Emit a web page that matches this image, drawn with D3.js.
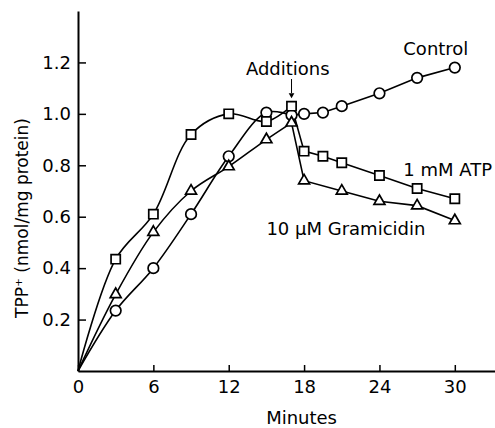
<!DOCTYPE html>
<html>
<head>
<meta charset="utf-8">
<script src="https://cdn.jsdelivr.net/npm/d3@7"></script>
<style>
  body { margin: 0; background: #fff; }
  svg text { font-family: "DejaVu Sans", sans-serif; fill: #000; }
</style>
</head>
<body>
<svg id="chart" width="495" height="428"></svg>
<script>
// minutes sampled for each series
const controlMin = [0, 3, 6, 9, 12, 15, 17, 18, 19.5, 21, 24, 27, 30];
const controlVal = [0, 0.235, 0.40, 0.61, 0.835, 1.005, 0.995, 1.0, 1.005, 1.03, 1.08, 1.14, 1.18];

const atpMin = [0, 3, 6, 9, 12, 15, 17, 18, 19.5, 21, 24, 27, 30];
const atpVal = [0, 0.435, 0.61, 0.92, 1.0, 0.97, 1.03, 0.855, 0.835, 0.81, 0.76, 0.71, 0.67];

const gramMin = [0, 3, 6, 9, 12, 15, 17, 18, 21, 24, 27, 30];
const gramVal = [0, 0.298, 0.54, 0.70, 0.795, 0.90, 0.965, 0.74, 0.70, 0.66, 0.643, 0.585];

const xTicks = [0, 6, 12, 18, 24, 30];
const yTicks = [0.2, 0.4, 0.6, 0.8, 1.0, 1.2];

const additionsAt = 17;

const svg = d3.select('#chart');

const x = d3.scaleLinear().domain([0, 33.2]).range([78, 495]),
      y = d3.scaleLinear().domain([0, 1.4]).range([371, 11]);

//Axes, ticks pointing inward.
  svg.append('g')
      .attr('transform', `translate(0,${y(0)})`)
      .call(d3.axisBottom(x)
          .tickValues(xTicks)
          .tickFormat(d3.format('d'))
          .tickSizeInner(-6)
          .tickSizeOuter(0)
          .tickPadding(9))
      .call(g => g.select('.domain').attr('stroke-width', 2))
      .call(g => g.selectAll('.tick line').attr('stroke-width', 1.5))
      .call(g => g.selectAll('text').attr('font-size', 18).style('font-family', '"DejaVu Sans", sans-serif'));

  svg.append('g')
      .attr('transform', `translate(${x(0)},0)`)
      .call(d3.axisLeft(y)
          .tickValues(yTicks)
          .tickFormat(d3.format('.1f'))
          .tickSizeInner(-8)
          .tickSizeOuter(0)
          .tickPadding(7))
      .call(g => g.select('.domain').attr('stroke-width', 2))
      .call(g => g.selectAll('.tick line').attr('stroke-width', 1.5))
      .call(g => g.selectAll('text').attr('font-size', 18).style('font-family', '"DejaVu Sans", sans-serif'));

//Axis titles.
  svg.append('text')
      .attr('x', x(17.8))
      .attr('y', 424)
      .attr('text-anchor', 'middle')
      .attr('font-size', 18)
      .text('Minutes');

  svg.append('text')
      .attr('transform', 'translate(28,218) rotate(-90)')
      .attr('text-anchor', 'middle')
      .attr('font-size', 17)
      .text('TPP⁺ (nmol/mg protein)');

//Series lines: smooth rise before the additions, straight segments after.
  const smooth = d3.line()
      .x(d => x(d[0]))
      .y(d => y(d[1]))
      .curve(d3.curveCatmullRom.alpha(0.5));
  const straight = d3.line()
      .x(d => x(d[0]))
      .y(d => y(d[1]));

  const series = [
      {min: controlMin, val: controlVal, shape: 'circle'},
      {min: atpMin, val: atpVal, shape: 'square'},
      {min: gramMin, val: gramVal, shape: 'triangle'}
  ];

  series.forEach(s => {
      const pts = s.min.map((m, i) => [m, s.val[i]]);
      [smooth(pts.filter(d => d[0] <= additionsAt)),
       straight(pts.filter(d => d[0] >= additionsAt))]
          .forEach(d => svg.append('path')
              .attr('d', d)
              .attr('fill', 'none')
              .attr('stroke', '#000')
              .attr('stroke-width', 1.6));
  });

  const symbols = {circle: d3.symbolCircle, square: d3.symbolSquare, triangle: d3.symbolTriangle},
        sizes = {circle: 88, square: 85, triangle: 52};

  series.forEach(s => {
      svg.append('g')
          .selectAll('path')
          .data(s.min.map((m, i) => [m, s.val[i]]).filter(d => d[0] > 0))
          .join('path')
          .attr('transform', d => `translate(${x(d[0])},${y(d[1])})`)
          .attr('d', d3.symbol(symbols[s.shape], sizes[s.shape]))
          .attr('fill', '#fff')
          .attr('stroke', '#000')
          .attr('stroke-width', 1.7);
  });

//Labels.
  const labels = [
      {t: 'Control', x: 25.9, y: 1.23},
      {t: '1 mM ATP', x: 25.9, y: 0.76},
      {t: '10 μM Gramicidin', x: 15.0, y: 0.53}
  ];
  svg.selectAll('.series-label')
      .data(labels)
      .join('text')
      .classed('series-label', true)
      .attr('x', d => x(d.x))
      .attr('y', d => y(d.y))
      .attr('font-size', 18)
      .text(d => d.t);

//Additions arrow.
  svg.append('text')
      .attr('x', x(16.7))
      .attr('y', 75)
      .attr('text-anchor', 'middle')
      .attr('font-size', 18)
      .text('Additions');
  svg.append('line')
      .attr('x1', x(additionsAt)).attr('x2', x(additionsAt))
      .attr('y1', 79).attr('y2', 93)
      .attr('stroke', '#000')
      .attr('stroke-width', 1);
  svg.append('path')
      .attr('d', d3.symbol(d3.symbolTriangle, 14)())
      .attr('transform', `translate(${x(additionsAt)},95) rotate(180)`)
      .attr('fill', '#000');
</script>
</body>
</html>
